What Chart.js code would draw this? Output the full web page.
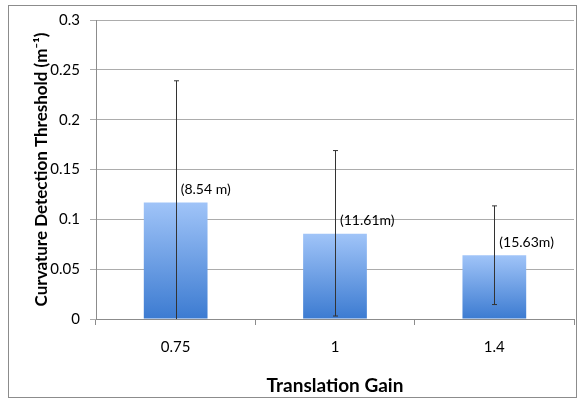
<!DOCTYPE html>
<html>
<head>
<meta charset="utf-8">
<script src="https://cdn.jsdelivr.net/npm/chart.js@4.4.1/dist/chart.umd.min.js"></script>
<style>
  html, body { margin:0; padding:0; background:#fff; }
  #wrap { position:relative; width:579px; height:403px; }
  #frame { position:absolute; left:8px; top:5px; width:567px; height:391px; border:1px solid #8c8c8c; pointer-events:none; }
</style>
</head>
<body>
<div id="wrap">
  <canvas id="chart" width="579" height="403"></canvas>
  <div id="frame"></div>
</div>
<script>
// ---- data ----
const categories = ["0.75", "1", "1.4"];
const thresholds = [0.117, 0.0855, 0.064];
const errHigh = [0.239, 0.169, 0.1135];
const errLow = [0.0, 0.003, 0.0145];
const barLabels = ["(8.54 m)", "(11.61m)", "(15.63m)"];
const yTicks = [0, 0.05, 0.1, 0.15, 0.2, 0.25, 0.3];

const FONT = "Lato, 'Open Sans', sans-serif";

// gradient per bar, light on top, dark at the base
function barFill(ctx){
  const chart = ctx.chart;
  const y = chart.scales.y;
  if(!y || ctx.dataIndex === undefined) return "#5b8fd8";
  const top = y.getPixelForValue(ctx.raw);
  const bot = y.getPixelForValue(0);
  if(!isFinite(top) || !isFinite(bot) || top === bot) return "#5b8fd8";
  const g = chart.ctx.createLinearGradient(0, top, 0, bot);
  g.addColorStop(0, "#a0c4f8");
  g.addColorStop(1, "#3c7bd1");
  return g;
}

// error bars + "(x m)" labels
const extras = {
  id: "extras",
  afterDatasetsDraw(chart){
    const {ctx, scales:{y}} = chart;
    const meta = chart.getDatasetMeta(0);
    ctx.save();
    meta.data.forEach((bar, i) => {
      const x = Math.round(bar.x) + 0.5;
      const yHi = y.getPixelForValue(errHigh[i]);
      const yLo = y.getPixelForValue(errLow[i]);
      ctx.strokeStyle = "#333";
      ctx.lineWidth = 1;
      ctx.beginPath();
      ctx.moveTo(x, yHi); ctx.lineTo(x, yLo);
      ctx.moveTo(x - 2.5, yHi); ctx.lineTo(x + 2.5, yHi);
      if(errLow[i] > 0){ ctx.moveTo(x - 2.5, yLo); ctx.lineTo(x + 2.5, yLo); }
      ctx.stroke();

      ctx.fillStyle = "#000";
      ctx.font = "14px " + FONT;
      ctx.textAlign = "left";
      ctx.textBaseline = "middle";
      ctx.fillText(barLabels[i], bar.x + 5, bar.y - 13);
    });
    ctx.restore();
  }
};

new Chart(document.getElementById("chart"), {
  type: "bar",
  data: {
    labels: categories,
    datasets: [{
      data: thresholds,
      backgroundColor: barFill,
      borderWidth: 0,
      categoryPercentage: 0.4,
      barPercentage: 1.0
    }]
  },
  options: {
    responsive: false,
    animation: false,
    events: [],
    layout: { padding: { top: 20, right: 5, left: 0, bottom: 0 } },
    plugins: { legend: { display: false }, tooltip: { enabled: false } },
    scales: {
      x: {
        offset: true,
        afterFit: s => { s.height = 84; },
        border: { color: "#8c8c8c" },
        grid: { offset: true, drawOnChartArea: false, tickLength: 6, color: "#8c8c8c" },
        ticks: { color: "#000", padding: 13, font: { family: FONT, size: 15 } },
        title: { display: true, text: "Translation Gain", color: "#000", padding: { top: 10, bottom: 6 },
                 font: { family: FONT, size: 19, weight: "bold" } }
      },
      y: {
        min: 0, max: 0.3,
        afterFit: s => { s.width = 96; },
        afterBuildTicks: s => { s.ticks = yTicks.map(v => ({ value: v })); },
        border: { color: "#8c8c8c" },
        grid: { color: "#acacac", tickLength: 6 },
        ticks: { color: "#000", padding: 10, font: { family: FONT, size: 15 },
                 callback: v => String(v) },
        title: { display: true, text: "Curvature Detection Threshold (m\u207B\u00B9)", color: "#000",
                 padding: { top: 31, bottom: 0 }, font: { family: FONT, size: 17, weight: "bold" } }
      }
    }
  },
  plugins: [extras]
});
</script>
</body>
</html>
